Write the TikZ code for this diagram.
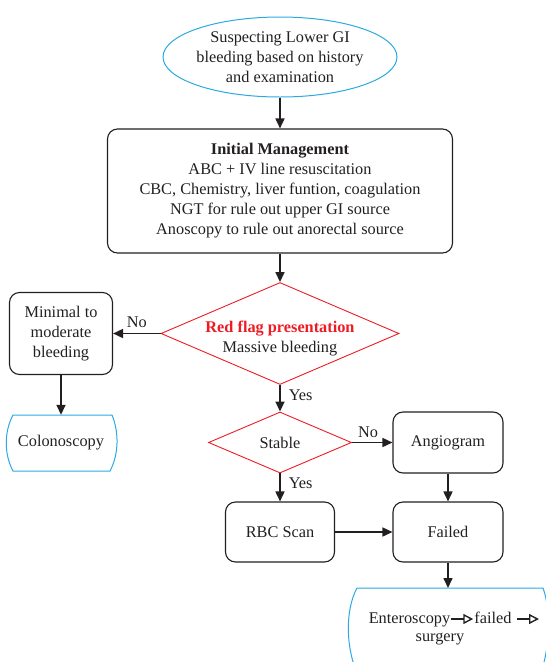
\documentclass[tikz,border=0pt]{standalone}
\usepackage{fontspec}
\setmainfont{Liberation Serif}
\usetikzlibrary{arrows.meta,shapes.geometric}
\definecolor{skyline}{RGB}{41,171,226}
\definecolor{flagred}{RGB}{237,28,36}
\definecolor{inkline}{RGB}{35,31,32}

\begin{document}
\begin{tikzpicture}[x=1pt,y=-1pt,
  every node/.style={font=\fontsize{16.3}{20}\selectfont, text=inkline},
  stepbox/.style={draw=inkline, line width=1.1pt, rounded corners=10pt, align=center, inner sep=0pt},
  reddiamond/.style={diamond, draw=flagred, line width=0.9pt, inner sep=0pt},
  flow/.style={draw=inkline, line width=1.6pt, -{Triangle[length=10pt,width=9pt]}},
  termline/.style={draw=skyline, line width=1pt},
  lbl/.style={inner sep=0pt},
  hollow/.style={draw=inkline, line width=1.4pt, -{Triangle[open,length=10pt,width=10pt,line width=1.4pt]}},
  inline/.style={inner sep=1pt, text height=11pt, text depth=3pt}
]
\useasboundingbox (0,0) rectangle (546,662);

% start ellipse
\node[ellipse, draw=skyline, line width=1pt, minimum width=234, minimum height=80, inner sep=0pt] (start) at (280,57) {};
\node[align=center] (starttext) at (start) {Suspecting Lower GI\\bleeding based on history\\and examination};

% initial management
\node[stepbox, minimum width=345, minimum height=124] (init) at (280,191)
  {\textbf{Initial Management}\\ABC + IV line resuscitation\\CBC, Chemistry, liver funtion, coagulation\\NGT for rule out upper GI source\\Anoscopy to rule out anorectal source};

% red flag decision
\node[reddiamond, minimum width=238, minimum height=102] (rf) at (280,333.5) {};
\node[align=center] (rftext) at (280,339) {\textcolor{flagred}{\textbf{Red flag presentation}}\\Massive bleeding};

% minimal to moderate branch
\node[stepbox, minimum width=103, minimum height=82] (minimal) at (61,333.5) {Minimal to\\moderate\\bleeding};
\node[inner sep=0pt, minimum width=100, minimum height=56] (colo) at (61,443) {Colonoscopy};
\draw[termline] (13,415) -- (112,415) .. controls (119,432) and (119,454) .. (110,471)
  -- (13,471) .. controls (4,454) and (4,432) .. (13,415) -- cycle;

% stable decision
\node[reddiamond, minimum width=143, minimum height=61] (stable) at (280,442.5) {};
\node (stabletext) at (stable) {Stable};

\node[stepbox, minimum width=110, minimum height=61] (angio) at (448,442.5) {Angiogram};
\node[stepbox, minimum width=110, minimum height=60] (failed) at (448,532) {Failed};
\node[stepbox, minimum width=109, minimum height=60] (rbc) at (280,532) {RBC Scan};

% enteroscopy terminal
\coordinate (ento) at (448,588);
\begin{scope}
  \clip (0,0) rectangle (546,662);
  \draw[termline] (357,588) -- (543,588) .. controls (551,610) and (551,650) .. (538,680)
    -- (360,680) .. controls (345,650) and (345,610) .. (357,588) -- cycle;
\end{scope}
\node[inline] (entA) at (409.5,619) {Enteroscopy};
\node[inline] (entB) at (493,619) {failed};
\coordinate (entC) at (539,619);
\node (surg) at (440,639) {surgery};
\draw[hollow] (entA.east) -- (entB.west);
\draw[hollow] ([xshift=4pt]entB.east) -- (entC);

% connectors
\draw[flow] (start.south) -- (init.north);
\draw[flow] (init.south) -- (rf.north);
\draw[flow] (rf.west) -- node[lbl, above=5pt] (noA) {No} (minimal.east);
\draw[flow] (minimal.south) -- (colo.north);
\draw[flow] (rf.south) -- node[lbl, pos=0.4, right=8pt] (yesA) {Yes} (stable.north);
\draw[flow] (stable.east) -- node[lbl, pos=0.4, above=4pt] (noB) {No} (angio.west);
\draw[flow] (stable.south) -- node[lbl, pos=0.35, right=8pt] (yesB) {Yes} (rbc.north);
\draw[flow] (angio.south) -- (failed.north);
\draw[flow] (rbc.east) -- (failed.west);
\draw[flow] (failed.south) -- (ento);
\end{tikzpicture}
\end{document}
